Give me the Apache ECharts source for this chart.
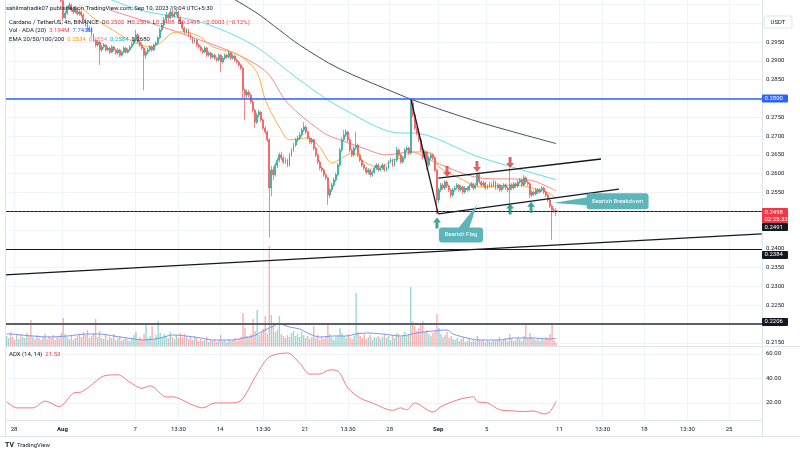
<!DOCTYPE html>
<html><head><meta charset="utf-8">
<script src="https://cdn.jsdelivr.net/npm/echarts@6/dist/echarts.min.js"></script>
<style>html,body{margin:0;padding:0;background:#fff}#c{width:800px;height:453px}</style>
</head><body><div id="c"></div>
<script>
// ---------- DATA ----------
const FIRST_CANDLE = '2023-07-27 09:30'; // 4h candles, UTC+5:30
const firstOpen = 0.3115;
const closes = [
0.3122,0.3135,0.3118,0.3110,0.3104,0.3112,
0.3120,0.3108,0.3115,0.3126,0.3140,0.3132,
0.3128,0.3136,0.3131,0.3125,0.3130,0.3127,
0.3119,0.3124,0.3110,0.3098,0.3090,0.3086,
0.3094,0.3085,0.3079,0.3060,0.3014,0.3027,
0.3041,0.3048,0.3035,0.3030,0.3041,0.3025,
0.3030,0.3022,0.3009,0.2995,0.2982,0.2987,
0.2969,0.2955,0.2942,0.2950,0.2929,0.2937,
0.2942,0.2929,0.2934,0.2923,0.2937,0.2929,
0.2921,0.2929,0.2915,0.2923,0.2934,0.2923,
0.2929,0.2937,0.2945,0.2955,0.2969,0.2950,
0.2942,0.2934,0.2915,0.2923,0.2929,0.2937,
0.2929,0.2942,0.2947,0.2961,0.2982,0.2995,
0.3009,0.3022,0.3014,0.3030,0.3019,0.3025,
0.3030,0.3014,0.3003,0.2987,0.2977,0.2982,
0.2969,0.2961,0.2950,0.2955,0.2942,0.2937,
0.2929,0.2923,0.2934,0.2915,0.2921,0.2910,
0.2915,0.2907,0.2902,0.2915,0.2897,0.2907,
0.2915,0.2910,0.2921,0.2907,0.2913,0.2902,
0.2897,0.2889,0.2881,0.2822,0.2809,0.2817,
0.2809,0.2791,0.2769,0.2737,0.2756,0.2764,
0.2743,0.2721,0.2711,0.2690,0.2562,0.2610,
0.2597,0.2623,0.2636,0.2650,0.2642,0.2631,
0.2636,0.2623,0.2650,0.2663,0.2676,0.2690,
0.2695,0.2703,0.2716,0.2724,0.2711,0.2695,
0.2684,0.2690,0.2668,0.2650,0.2631,0.2615,
0.2610,0.2597,0.2589,0.2543,0.2557,0.2570,
0.2583,0.2597,0.2623,0.2663,0.2690,0.2703,
0.2711,0.2690,0.2663,0.2650,0.2668,0.2676,
0.2650,0.2636,0.2623,0.2615,0.2604,0.2610,
0.2597,0.2604,0.2615,0.2623,0.2610,0.2615,
0.2623,0.2610,0.2615,0.2631,0.2636,0.2623,
0.2636,0.2663,0.2650,0.2631,0.2642,0.2663,
0.2668,0.2655,0.2788,0.2756,0.2721,0.2708,
0.2690,0.2663,0.2644,0.2658,0.2623,0.2642,
0.2650,0.2642,0.2610,0.2530,0.2557,0.2570,
0.2562,0.2578,0.2567,0.2557,0.2543,0.2557,
0.2562,0.2570,0.2557,0.2565,0.2551,0.2562,
0.2557,0.2567,0.2573,0.2562,0.2570,0.2597,
0.2578,0.2570,0.2575,0.2562,0.2567,0.2573,
0.2567,0.2578,0.2562,0.2570,0.2557,0.2565,
0.2570,0.2562,0.2557,0.2570,0.2562,0.2573,
0.2567,0.2578,0.2583,0.2570,0.2589,0.2578,
0.2573,0.2543,0.2551,0.2546,0.2557,0.2551,
0.2557,0.2562,0.2551,0.2543,0.2530,0.2514,
0.2503,0.2502,0.2498];
const highs = [
.3130,.3142,.3140,.3125,.3114,.3118,
.3126,.3124,.3120,.3132,.3148,.3145,
.3138,.3142,.3140,.3135,.3136,.3134,
.3130,.3129,.3127,.3113,.3102,.3095,
.3100,.3097,.3089,.3082,.3064,.3033,
.3046,.3055,.3052,.3040,.3046,.3044,
.3036,.3034,.3026,.3012,.2999,.2993,
.2990,.2973,.2958,.2955,.2953,.2942,
.2947,.2945,.2939,.2937,.2942,.2940,
.2932,.2934,.2932,.2927,.2939,.2937,
.2933,.2941,.2950,.2961,.2982,.2973,
.2955,.2947,.2937,.2928,.2934,.2942,
.2941,.2946,.2952,.2966,.2988,.3001,
.3016,.3030,.3027,.3040,.3035,.3032,
.3037,.3034,.3018,.3006,.2991,.2987,
.2985,.2973,.2964,.2960,.2958,.2946,
.2941,.2933,.2939,.2937,.2926,.2924,
.2920,.2918,.2911,.2920,.2918,.2912,
.2920,.2919,.2926,.2924,.2918,.2916,
.2906,.2900,.2893,.2884,.2826,.2824,
.2822,.2813,.2795,.2772,.2762,.2770,
.2767,.2747,.2726,.2715,.2694,.2620,
.2618,.2630,.2642,.2656,.2658,.2648,
.2642,.2640,.2655,.2668,.2682,.2695,
.2701,.2710,.2722,.2737,.2729,.2714,
.2699,.2696,.2693,.2671,.2654,.2636,
.2620,.2614,.2601,.2592,.2563,.2576,
.2589,.2603,.2629,.2669,.2697,.2716,
.2718,.2714,.2694,.2667,.2673,.2711,
.2680,.2654,.2640,.2627,.2618,.2615,
.2614,.2609,.2620,.2628,.2627,.2620,
.2628,.2626,.2620,.2636,.2642,.2640,
.2641,.2671,.2667,.2654,.2647,.2668,
.2673,.2672,.2801,.2796,.2762,.2726,
.2713,.2694,.2668,.2663,.2661,.2647,
.2655,.2654,.2645,.2613,.2562,.2576,
.2575,.2583,.2582,.2571,.2560,.2562,
.2567,.2575,.2573,.2570,.2568,.2567,
.2566,.2572,.2578,.2576,.2575,.2604,
.2600,.2582,.2580,.2578,.2572,.2578,
.2577,.2583,.2581,.2575,.2573,.2570,
.2575,.2574,.2566,.2615,.2575,.2578,
.2577,.2583,.2588,.2587,.2597,.2593,
.2582,.2576,.2556,.2555,.2562,.2561,
.2562,.2567,.2565,.2555,.2546,.2533,
.2518,.2509,.2509];
const lows = [
.3108,.3118,.3112,.3103,.3098,.3100,
.3108,.3102,.3104,.3111,.3122,.3127,
.3122,.3124,.3126,.3119,.3121,.3122,
.3114,.3115,.3105,.3092,.3084,.3080,
.3082,.3080,.3072,.3055,.3005,.3010,
.3022,.3036,.3030,.3024,.3026,.3020,
.3020,.3017,.3004,.2990,.2976,.2977,
.2964,.2950,.2936,.2938,.2889,.2924,
.2932,.2925,.2925,.2918,.2920,.2924,
.2916,.2917,.2910,.2911,.2920,.2919,
.2919,.2925,.2933,.2941,.2951,.2945,
.2937,.2929,.2822,.2905,.2918,.2925,
.2924,.2925,.2938,.2943,.2957,.2977,
.2990,.3004,.3008,.3010,.3014,.3014,
.3020,.3009,.2998,.2982,.2971,.2972,
.2964,.2956,.2945,.2946,.2937,.2932,
.2924,.2918,.2920,.2910,.2911,.2905,
.2906,.2902,.2897,.2898,.2870,.2892,
.2903,.2905,.2906,.2902,.2903,.2897,
.2892,.2884,.2876,.2800,.2743,.2800,
.2802,.2786,.2762,.2721,.2732,.2750,
.2738,.2716,.2705,.2684,.2430,.2540,
.2583,.2592,.2615,.2630,.2636,.2625,
.2626,.2617,.2618,.2645,.2658,.2671,
.2684,.2690,.2698,.2711,.2705,.2690,
.2679,.2678,.2662,.2644,.2625,.2609,
.2604,.2591,.2583,.2517,.2535,.2551,
.2565,.2578,.2592,.2618,.2658,.2685,
.2697,.2684,.2657,.2644,.2645,.2663,
.2645,.2631,.2617,.2609,.2598,.2598,
.2591,.2592,.2600,.2610,.2605,.2606,
.2611,.2605,.2606,.2611,.2627,.2618,
.2619,.2631,.2645,.2626,.2627,.2638,
.2657,.2650,.2650,.2750,.2715,.2702,
.2684,.2658,.2638,.2639,.2610,.2618,
.2637,.2636,.2604,.2493,.2522,.2551,
.2557,.2557,.2562,.2551,.2535,.2538,
.2552,.2557,.2552,.2552,.2546,.2547,
.2552,.2553,.2562,.2557,.2558,.2566,
.2573,.2565,.2566,.2557,.2558,.2563,
.2562,.2563,.2557,.2558,.2552,.2552,
.2560,.2557,.2551,.2496,.2557,.2558,
.2562,.2563,.2573,.2565,.2566,.2573,
.2568,.2535,.2538,.2540,.2542,.2546,
.2547,.2552,.2546,.2538,.2525,.2509,
.2424,.2495,.2488];
const volumes = [ // millions ADA
10,8,14,9,6,11, 7,12,9,8,13,10, 26,9,7,11,8,6, 9,12,7,10,8,11,
6,9,8,13,28,12, 9,7,11,6,8,10, 12,9,14,11,16,8, 10,13,27,9,15,8,
7,11,6,9,8,12, 6,8,10,5,7,9, 6,5,8,11,14,7, 9,6,12,22,8,10,
20,7,11,25,13,9, 12,10,8,14,9,7, 11,8,13,9,12,10, 7,9,6,10,8,5,
7,5,6,9,4,6, 5,7,4,6,11,5, 6,4,7,5,6,8, 5,7,9,33,18,10,
9,12,27,15,36,11, 14,17,30,12,100,31, 20,14,16,30,12,10, 8,11,9,13,15,10,
12,9,14,11,8,10, 7,9,20,8,11,6, 9,7,10,22,12,8, 6,9,11,18,13,10,
8,12,9,7,10,53, 14,10,8,12,7,9, 11,6,9,8,10,7, 9,12,8,10,6,11,
8,13,12,9,11,14, 10,12,59,25,20,15, 18,23,25,14,16,12, 10,13,15,32,18,12,
9,11,14,8,10,7, 6,8,5,7,9,4, 5,7,4,6,5,10, 6,5,7,4,6,5,
4,6,5,7,9,5, 6,8,5,12,7,5, 6,9,7,5,10,22, 8,13,9,7,6,8,
5,7,6,9,8,12, 22,6,3.194];
const volMaIdx = [0,2,7,13,20,30,40,46,53,63,68,76,82,89,96,102,112,117,122,127,130,135,140,145,150,155,162,168,173,178,186,195,203,211,218,221,228,234,244,251,261,268,272];
const volMaVal = [12,12,11,10,9,10,12,12,10,7,6,8,11,10,8,6,6,8,10,15,18,22,19,17,12,9,10,10,12,13,12,10,13,15,16,12,8,6,6,8,8,7,7.743];
const ema20Idx = [36,43,51,61,71,76,82,88,96,102,115,124,128,135,140,149,155,161,166,171,178,185,191,195,201,210,214,226,234,251,258,268,272];
const ema20Val = [0.3048,0.3014,0.2987,0.2955,0.2937,0.2947,0.2974,0.2977,0.2963,0.2937,0.2915,0.2868,0.2796,0.2724,0.2690,0.2695,0.2671,0.2628,0.2642,0.2655,0.2628,0.2618,0.2636,0.2642,0.2658,0.2655,0.2618,0.2583,0.2565,0.2570,0.2565,0.2549,0.2534];
const ema50Idx = [51,71,96,115,129,139,157,165,175,188,195,200,213,234,259,272];
const ema50Val = [0.3035,0.3001,0.2955,0.2915,0.2868,0.2788,0.2708,0.2690,0.2671,0.2650,0.2655,0.2658,0.2628,0.2589,0.2583,0.2554];
const ema100Idx = [46,66,96,122,145,165,195,201,234,272];
const ema100Val = [0.3075,0.3035,0.3003,0.2942,0.2849,0.2777,0.2708,0.2708,0.2644,0.2584];
const ema200Idx = [96,123,135,145,164,195,201,234,272];
const ema200Val = [0.3115,0.3030,0.2982,0.2942,0.2881,0.2809,0.2796,0.2737,0.2680];
const adxIdx = [0,5,13,19,26,33,37,43,48,55,61,67,71,79,82,92,97,103,109,115,124,130,139,145,150,155,160,164,169,175,181,191,195,198,202,211,215,223,231,233,238,244,251,256,261,266,269,272];
const adxVal = [21,16,16,21.6,17,28,29,36,42,43,37,32,34,25,25,18.4,16,20,20,21,44,57.6,60.8,52.6,43.6,43.6,47,46,32,24,20,14,16,14.5,20,12.6,17,22.4,25,21,20,14.5,13.5,13,13.5,11,13,21.53];
const TICK_TIMES = ['2023-07-28 00:00','2023-08-01 00:00','2023-08-07 00:00','2023-08-10 13:30','2023-08-14 00:00','2023-08-17 13:30','2023-08-21 00:00','2023-08-24 13:30','2023-08-28 00:00','2023-09-01 00:00','2023-09-05 00:00','2023-09-11 00:00','2023-09-14 13:30','2023-09-18 00:00','2023-09-21 13:30','2023-09-25 00:00'];
const TICK_LABELS = ['28','Aug','7','13:30','14','13:30','21','13:30','28','Sep','5','11','13:30','18','13:30','25'];
const PRICE_GRID = [0.2150,0.2200,0.2250,0.2300,0.2350,0.2400,0.2450,0.2500,0.2550,0.2600,0.2650,0.2700,0.2750,0.2800,0.2850,0.2900,0.2950,0.3000,0.3050];
const PRICE_LABELS = [0.2150,0.2250,0.2300,0.2350,0.2400,0.2550,0.2600,0.2650,0.2700,0.2750,0.2850,0.2900,0.2950];
const ADX_TICKS = [20,40,60];
const LEVELS = [ // horizontal levels
  {price:0.2800, color:'#2962ff', width:1.5, tag:'0.2800'},
  {price:0.2491, color:'#131722', width:1.2, tag:'0.2491'},
  {price:0.2384, color:'#131722', width:1.2, tag:'0.2384'},
  {price:0.2206, color:'#5d606b', width:2, tag:'0.2206'}
];
const LAST_PRICE = 0.2498, LAST_COUNTDOWN = '02:25:33';
// trend lines [[idx, price],[idx, price]]
const TRENDS = [
  [[-0.8,0.2331],[373.8,0.2440]],
  [[200.2,0.2796],[213.6,0.2493]],
  [[213.7,0.2588],[294.2,0.2639]],
  [[213.7,0.2493],[303.1,0.2559]]
];
const RED_ARROWS = [[218,0.2606],[232.8,0.2619],[249.2,0.2630]];
const GREEN_ARROWS = [[213,0.2469],[249.2,0.2506],[259.6,0.2511]];
const CALLOUTS = [
  {text:'Bearish Flag', box:[224.9,0.2437], tip:[232.8,0.2517], w:44, h:15, side:'top'},
  {text:'Bearish Breakdown', box:[302.4,0.2527], tip:[270.5,0.2522], w:62, h:16, side:'left'}
];

// ---------- VIEW ----------
const X_MIN = -0.83, X_MAX = 373.9;
const P_MIN = 0.21419, P_MAX = 0.30617;
const VOL_MAX = 346, ADX_MIN = 6.1, ADX_MAX = 65.7;
const FONT = 'Roboto, "Liberation Sans", sans-serif';
const UP = '#26a69a', DOWN = '#ef5350';

function ms(t){return Date.parse(t.replace(' ','T')+':00Z');}
function toIdx(t){return (ms(t)-ms(FIRST_CANDLE))/14400000;}
const tickIdx = TICK_TIMES.map(toIdx);
const opens = closes.map((c,k)=> k ? closes[k-1] : firstOpen);
const candleData = closes.map((c,k)=>[k, opens[k], c, lows[k], highs[k]]);
const volData = volumes.map((v,k)=>({value:[k,v], itemStyle:{color: closes[k]>=opens[k] ? 'rgba(38,166,154,0.45)' : 'rgba(239,83,80,0.45)'}}));
const pairs = (a,b)=>a.map((x,i)=>[x,b[i]]);

function xLabel(v){
  const i = tickIdx.findIndex(x=>Math.abs(x-v)<1e-6);
  const s = i>=0 ? TICK_LABELS[i] : '';
  return (s==='Aug'||s==='Sep') ? '{b|'+s+'}' : s;
}
const split = {show:true, lineStyle:{color:'#f0f3fa', width:1}};
const lineS = (name, data, color, w, yi, xi) => ({name, type:'line', xAxisIndex:xi||0, yAxisIndex:yi||0, data, showSymbol:false, symbol:'none', smooth:0.3, lineStyle:{color, width:w||1}, silent:true, z:3});

const chart = echarts.init(document.getElementById('c'));
const option = {
  animation:false,
  backgroundColor:'#ffffff',
  textStyle:{fontFamily:FONT},
  grid:[{left:5,right:38,top:0,height:346},{left:5,right:38,top:347,height:73}],
  xAxis:[
    {type:'value',gridIndex:0,min:X_MIN,max:X_MAX,axisLine:{show:false},axisTick:{show:false,customValues:tickIdx},axisLabel:{show:false,customValues:tickIdx},splitLine:split},
    {type:'value',gridIndex:1,min:X_MIN,max:X_MAX,axisLine:{show:false},axisTick:{show:false,customValues:tickIdx},
     axisLabel:{customValues:tickIdx,formatter:xLabel,fontSize:6,color:'#131722',margin:6,fontFamily:FONT,rich:{b:{fontWeight:'bold',fontSize:6,color:'#131722',fontFamily:FONT}}},splitLine:split}
  ],
  yAxis:[
    {type:'value',gridIndex:0,position:'right',min:P_MIN,max:P_MAX,axisLine:{show:false},axisTick:{show:false,customValues:PRICE_GRID},
     axisLabel:{customValues:PRICE_LABELS,formatter:v=>v.toFixed(4),fontSize:6,color:'#131722',margin:4,align:'left',fontFamily:FONT},splitLine:split},
    {type:'value',gridIndex:0,min:0,max:VOL_MAX,show:false,splitLine:{show:false}},
    {type:'value',gridIndex:1,position:'right',min:ADX_MIN,max:ADX_MAX,axisLine:{show:false},axisTick:{show:false,customValues:ADX_TICKS},
     axisLabel:{customValues:ADX_TICKS,formatter:v=>v.toFixed(2),fontSize:6,color:'#131722',margin:4,align:'left',fontFamily:FONT},splitLine:split}
  ],
  series:[
    {name:'Vol',type:'bar',xAxisIndex:0,yAxisIndex:1,data:volData,barWidth:1.4,silent:true,z:1},
    lineS('VolMA', pairs(volMaIdx,volMaVal), '#7a97f0', 1, 1),
    lineS('EMA200', pairs(ema200Idx,ema200Val), '#4a4d57', 1),
    lineS('EMA100', pairs(ema100Idx,ema100Val), '#5fe0ea', 1),
    lineS('EMA50', pairs(ema50Idx,ema50Val), '#f58a8e', 1),
    lineS('EMA20', pairs(ema20Idx,ema20Val), '#ffad42', 1),
    {name:'ADA',type:'candlestick',xAxisIndex:0,yAxisIndex:0,data:candleData,encode:{x:0,y:[1,2,3,4]},barWidth:1.4,silent:true,z:4,
     itemStyle:{color:UP,color0:DOWN,borderColor:UP,borderColor0:DOWN,borderWidth:0.7},
     markLine:{silent:true,symbol:['none','none'],label:{show:false},animation:false,
       data:[
         ...LEVELS.map(l=>({yAxis:l.price,lineStyle:{color:l.color,width:l.width,type:'solid'}})),
         {yAxis:LAST_PRICE,lineStyle:{color:'#f23645',width:0.8,type:[2,2],opacity:0.8}},
         ...TRENDS.map(t=>[{coord:t[0],lineStyle:{color:'#131722',width:1.3,type:'solid'}},{coord:t[1]}])
       ]}},
    {name:'down',type:'scatter',xAxisIndex:0,yAxisIndex:0,data:RED_ARROWS,symbol:'path://M2.5,0H5.5V6H8L4,11L0,6H2.5Z',symbolSize:[8,11],itemStyle:{color:'#d93a3f'},silent:true,z:6},
    {name:'up',type:'scatter',xAxisIndex:0,yAxisIndex:0,data:GREEN_ARROWS,symbol:'path://M4,0L8,5H5.5V11H2.5V5H0Z',symbolSize:[8,11],itemStyle:{color:'#138f7f'},silent:true,z:6},
    lineS('ADX', pairs(adxIdx,adxVal), '#f7787c', 1, 2, 1)
  ]
};
chart.setOption(option);

// ---------- ANNOTATIONS ----------
function P(k,p){return chart.convertToPixel({xAxisIndex:0,yAxisIndex:0},[k,p]);}
const g = [];
const txt = (x,y,rich,text,extra)=>Object.assign({type:'text',x,y,z:100,style:{text,rich,fontFamily:FONT,fontSize:6,fill:'#131722',verticalAlign:'middle'}},extra||{});
const rs = {d:{fill:'#131722',fontSize:6,fontFamily:FONT},r:{fill:'#f23645',fontSize:6,fontFamily:FONT},bl:{fill:'#2962ff',fontSize:6,fontFamily:FONT},
  o:{fill:'#ff9800',fontSize:6,fontFamily:FONT},p:{fill:'#f77c80',fontSize:6,fontFamily:FONT},c:{fill:'#00bcd4',fontSize:6,fontFamily:FONT},k:{fill:'#131722',fontSize:6,fontFamily:FONT}};
g.push(txt(6,8,rs,'{d|sahilmahadik07 published on TradingView.com, Sep 10, 2023 19:04 UTC+5:30}'));
g.push(txt(9,22,rs,'{d|Cardano / TetherUS, 4h, BINANCE  O}{r|0.2502}{d|  H}{r|0.2509}{d|  L}{r|0.2488}{d|  C}{r|0.2498}{r|  −0.0003 (−0.12%)}'));
g.push(txt(9,30.5,rs,'{d|Vol · ADA (20)  }{r|3.194M}{d|  }{bl|7.743M}'));
g.push(txt(9,39,rs,'{d|EMA 20/50/100/200  }{o|0.2534}{d|  }{p|0.2554}{d|  }{c|0.2584}{d|  }{k|0.2680}'));
g.push(txt(9,354,rs,'{d|ADX (14, 14)  }{r|21.53}'));
// frame lines
const ln = (x1,y1,x2,y2,c)=>({type:'line',z:50,shape:{x1,y1,x2,y2},style:{stroke:c||'#e0e3eb',lineWidth:1}});
g.push(ln(5.5,0,5.5,436), ln(762.5,0,762.5,436), ln(5,346.5,800,346.5), ln(5,420.5,762,420.5), ln(0,436.5,800,436.5));
// USDT box
g.push({type:'rect',z:60,shape:{x:764,y:16,width:28,height:12,r:2},style:{fill:'#fff',stroke:'#e0e3eb',lineWidth:1}});
g.push({type:'text',z:61,x:778,y:22,style:{text:'USDT',fontSize:6,fontFamily:FONT,fill:'#131722',align:'center',verticalAlign:'middle'}});
// price tags
function tag(y,text,bg,h){
  g.push({type:'rect',z:70,shape:{x:762,y:y-4,width:26,height:h||8,r:1},style:{fill:bg}});
  g.push({type:'text',z:71,x:764.5,y:y-4+(h||8)/2,style:{text,fontSize:6,fontFamily:FONT,fill:'#fff',verticalAlign:'middle',lineHeight:7}});
}
const lastY = P(0,LAST_PRICE)[1];
tag(lastY, LAST_PRICE.toFixed(4)+'\n'+LAST_COUNTDOWN, '#f23645', 15);
LEVELS.forEach(l=>{
  let y = P(0,l.price)[1];
  if (Math.abs(y-lastY)<16) y = lastY+15; // pushed below the last-price tag
  tag(y, l.tag, l.color==='#5d606b' ? '#131722' : l.color);
});
// callouts
CALLOUTS.forEach(c=>{
  const b = P(c.box[0],c.box[1]), t = P(c.tip[0],c.tip[1]);
  const x0 = b[0]-c.w/2, y0 = b[1]-c.h/2;
  const tri = c.side==='top' ? [[b[0]-3,y0+1],[b[0]+8,y0+1],t] : [[x0+1,b[1]-4],[x0+1,b[1]+4],t];
  const col = '#5bb5b9';
  g.push({type:'polygon',z:80,shape:{points:tri},style:{fill:col}});
  g.push({type:'rect',z:80,shape:{x:x0,y:y0,width:c.w,height:c.h,r:3},style:{fill:col}});
  g.push({type:'text',z:81,x:b[0],y:b[1],style:{text:c.text,fontSize:6,fontFamily:FONT,fill:'#fff',align:'center',verticalAlign:'middle'}});
});
// logo
g.push({type:'text',z:90,x:5,y:445,style:{text:'TV',fontSize:7,fontWeight:'bold',fontFamily:FONT,fill:'#131722',verticalAlign:'middle'}});
g.push({type:'text',z:90,x:17,y:445,style:{text:'TradingView',fontSize:6,fontFamily:FONT,fill:'#131722',verticalAlign:'middle'}});
chart.setOption({graphic:g});
</script></body></html>
